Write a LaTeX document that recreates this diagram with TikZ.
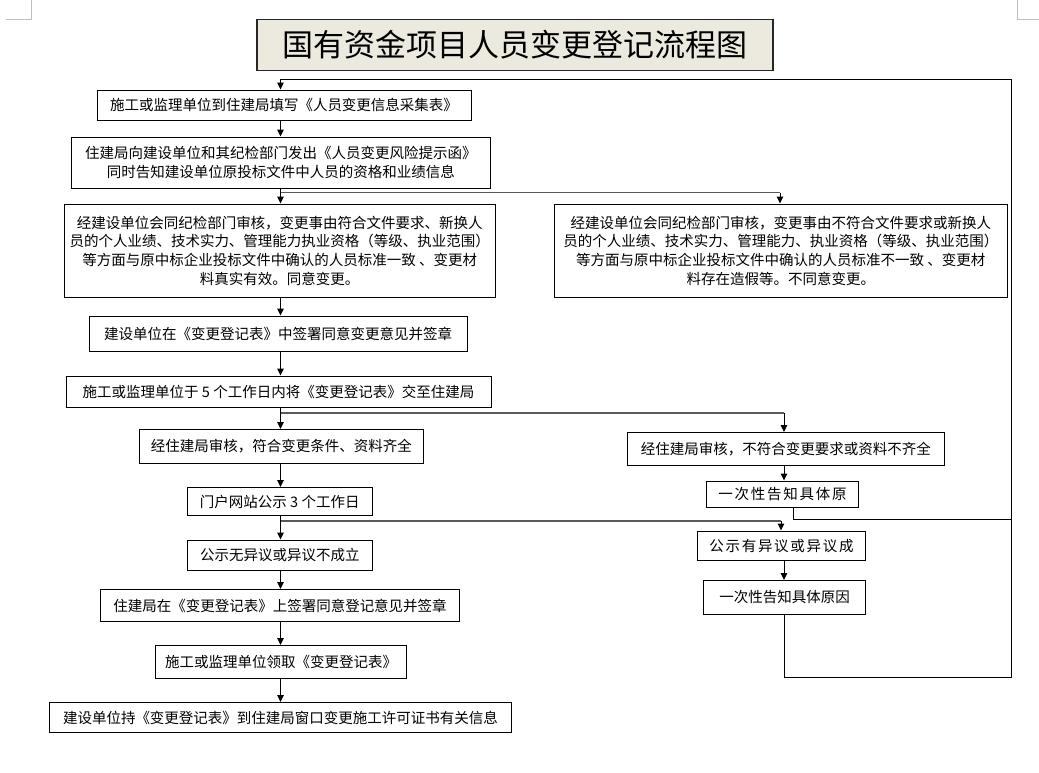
\documentclass[tikz,border=0pt]{standalone}
\usepackage{fontspec}
\setmainfont{Noto Sans CJK SC}
\newfontfamily\spacedfont[LetterSpace=12]{Noto Sans CJK SC}
\usetikzlibrary{arrows.meta,calc}
\definecolor{titlebg}{RGB}{236,234,223}
\definecolor{markgray}{RGB}{190,190,190}
\definecolor{branchgray}{RGB}{90,90,90}
\tikzset{
  box/.style={draw=black, line width=1pt, inner sep=0pt, align=center,
    font=\fontsize{14.5}{18.7}\selectfont},
  titlebox/.style={draw=black!85, line width=1.5pt, fill=titlebg, inner sep=0pt,
    font=\fontsize{31}{36}\selectfont},
  arr/.style={-{Triangle[width=6.5pt,length=7pt]}, line width=1pt, black},
  conn/.style={line width=1pt, black},
  branch/.style={line width=1.6pt, branchgray},
  cornermark/.style={line width=1pt, markgray}
}
\begin{document}
\begin{tikzpicture}[x=1pt,y=-1pt]
\useasboundingbox (0,0) rectangle (1039,772);
% page corner marks
\draw[cornermark] (6,19.3) -- (31.7,19.3) -- (31.7,0);
\draw[cornermark] (1039,19.3) -- (1017.3,19.3) -- (1017.3,0);

\node[titlebox, minimum width=516pt, minimum height=51pt] (title) at (515,45) {国有资金项目人员变更登记流程图};

\node[box, minimum width=374pt, minimum height=30pt] (b1) at (284,105) {施工或监理单位到住建局填写《人员变更信息采集表》};
\node[box, minimum width=418.5pt, minimum height=51.5pt] (b2) at (280.75,162.75) {住建局向建设单位和其纪检部门发出《人员变更风险提示函》\\同时告知建设单位原投标文件中人员的资格和业绩信息};
\node[box, minimum width=430.5pt, minimum height=93pt] (b3L) at (279.75,250.5) {经建设单位会同纪检部门审核，变更事由符合文件要求、新换人\\员的个人业绩、技术实力、管理能力执业资格（等级、执业范围）\\等方面与原中标企业投标文件中确认的人员标准一致 、变更材\\料真实有效。同意变更。};
\node[box, minimum width=452.5pt, minimum height=93pt] (b3R) at (780.75,250.5) {经建设单位会同纪检部门审核，变更事由不符合文件要求或新换人\\员的个人业绩、技术实力、管理能力、执业资格（等级、执业范围）\\等方面与原中标企业投标文件中确认的人员标准不一致 、变更材\\料存在造假等。不同意变更。};
\node[box, minimum width=378pt, minimum height=35pt] (b4) at (278,333.5) {建设单位在《变更登记表》中签署同意变更意见并签章};
\node[box, minimum width=425pt, minimum height=31pt] (b5) at (278.5,391.5) {施工或监理单位于 5 个工作日内将《变更登记表》交至住建局};
\node[box, minimum width=284.5pt, minimum height=34pt] (b6L) at (281.25,446.5) {经住建局审核，符合变更条件、资料齐全};
\node[box, minimum width=317.5pt, minimum height=33pt] (b6R) at (785.75,449) {经住建局审核，不符合变更要求或资料不齐全};
\node[box, minimum width=185.5pt, minimum height=28pt] (b7L) at (279.75,501.5) {门户网站公示 3 个工作日};
\node[box, minimum width=152pt, minimum height=26.5pt] (b7R) at (782.5,494.25) {\spacedfont 一次性告知具体原};
\node[box, minimum width=185.5pt, minimum height=30.5pt] (b8L) at (279.75,555.25) {公示无异议或异议不成立};
\node[box, minimum width=168pt, minimum height=29.5pt] (b8R) at (781.5,545.75) {\spacedfont 公示有异议或异议成};
\node[box, minimum width=162pt, minimum height=33.5pt] (b9R) at (784.5,597.25) {一次性告知具体原因};
\node[box, minimum width=359pt, minimum height=32pt] (b9L) at (280,605.5) {住建局在《变更登记表》上签署同意登记意见并签章};
\node[box, minimum width=251pt, minimum height=33pt] (b10) at (281,662) {施工或监理单位领取《变更登记表》};
\node[box, minimum width=462pt, minimum height=30pt] (b11) at (280.5,717.5) {建设单位持《变更登记表》到住建局窗口变更施工许可证书有关信息};

% helper coordinates
\coordinate (T) at (280.5,79);
\coordinate (LT) at (1011.5,79);
\coordinate (LM) at (1011.5,519.5);
\coordinate (LB) at (1011.5,677.5);
\coordinate (j1) at (280.5,192.5);
\coordinate (j2) at (280.5,413);
\coordinate (j3) at (280.5,521);
\coordinate (r1) at (780,192.5);
\coordinate (r2) at (784,413);
\coordinate (r3) at (781,521);

% main spine
\draw[arr] (T |- b1.south) -- (T |- b2.north);
\draw[arr] (T |- b2.south) -- (T |- b3L.north);
\draw[arr] (T |- b3L.south) -- (T |- b4.north);
\draw[arr] (T |- b4.south) -- (T |- b5.north);
\draw[arr] (T |- b5.south) -- (T |- b6L.north);
\draw[arr] (T |- b6L.south) -- (T |- b7L.north);
\draw[arr] (T |- b7L.south) -- (T |- b8L.north);
\draw[arr] (T |- b8L.south) -- (T |- b9L.north);
\draw[arr] (T |- b9L.south) -- (T |- b10.north);
\draw[arr] (T |- b10.south) -- (T |- b11.north);

% branches
\draw[branch] (j1) -- (r1);
\draw[arr] (r1) -- (r1 |- b3R.north);
\draw[branch] (j2) -- (r2);
\draw[arr] (r2) -- (r2 |- b6R.north);
\draw[branch] (j3) -- (r3);
\draw[arr] (r3) -- (r3 |- b8R.north);

% right column
\draw[arr] (r2 |- b6R.south) -- (r2 |- b7R.north);
\draw[arr] (r2 |- b8R.south) -- (r2 |- b9R.north);

% return loop
\draw[conn] ([xshift=10.5pt]b7R.south) |- (LM);
\draw[arr] (r2 |- b9R.south) |- (LB) -- (LT) -- (T) -- (T |- b1.north);
\end{tikzpicture}
\end{document}
